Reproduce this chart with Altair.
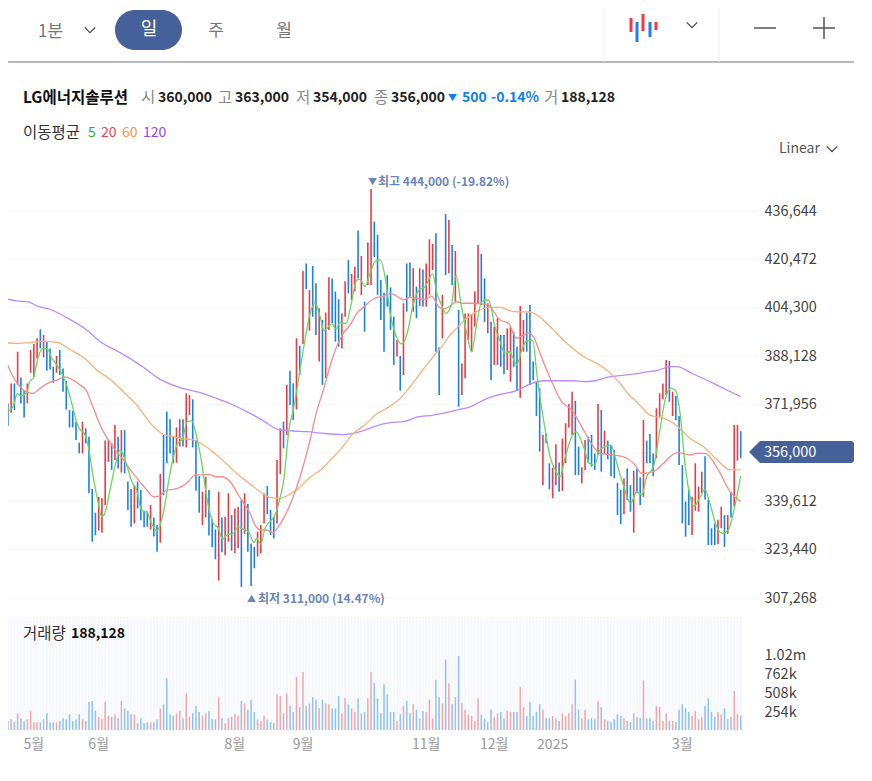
import altair as alt
import pandas as pd

FONT = "Noto Sans CJK KR"

# ---- candles: daily high / low (thousand won) and direction -----
highs_a = [378.7,372.3,379.0,379.0,389.6,381.0,376.8,379.0,390.2,392.2,394.1,397.1,395.2,393.0,390.7,384.6,388.2,390.2,384.0,379.9,
 370.1,369.9,366.2,359.2,366.2,364.0,361.2,343.7,335.8,341.1,340.6,359.9,360.1,359.0,365.1,361.2,363.4,363.4,346.2,343.7,
 345.0,346.2,343.4,336.1,336.1,338.4,334.2,331.7,348.7,361.8,369.6,367.0,361.5,364.3,367.0,367.0,375.7,375.1,373.7,360.1,
 348.0,342.8,347.8,343.4,333.6,330.2,342.8,334.2,334.4,342.3,335.0,337.2,337.8,340.0,342.3,338.7]
lows_a = [364.3,364.8,369.2,370.1,378.5,372.3,367.6,372.3,382.6,381.2,387.4,390.7,387.7,383.2,383.7,379.2,382.6,381.8,376.2,370.3,
 364.3,364.3,360.1,355.6,355.6,359.0,342.3,326.1,328.2,329.8,329.1,338.4,352.8,350.1,353.4,350.6,349.2,348.9,336.7,331.1,
 332.2,337.2,333.3,330.9,331.1,330.2,327.8,322.7,325.8,341.7,352.3,355.6,352.3,352.5,357.9,357.9,357.6,368.4,357.6,343.1,
 335.8,331.7,334.2,328.2,324.2,320.2,313.1,322.6,321.6,326.1,323.1,322.2,323.9,311.0,328.7,322.7]
dirs_a = ['u','d','u','d','u','d','d','u','u','u','u','d','u','d','d','d','u','d','d','d',
 'd','d','d','d','u','d','d','d','d','u','u','u','u','d','u','d','u','d','d','d',
 'u','d','d','d','d','u','d','d','u','d','d','d','d','u','u','d','u','u','d','d',
 'd','u','u','d','d','d','u','d','u','u','d','u','u','d','u','d']

highs_b = [325.5,324.4,329.4,331.7,342.3,344.7,336.7,334.4,353.4,364.0,366.2,378.5,383.2,379.0,394.1,391.6,416.6,419.1,410.2,418.3,
 412.5,404.1,400.2,402.7,414.5,414.1,409.7,407.1,402.4,413.2,420.2,415.6,418.0,430.1,421.6,406.3,426.1,444.0,433.1,428.6,
 413.6,409.3,415.2,411.1,401.3,393.5,388.2,405.8,419.1,419.4,417.5,411.4,417.5,417.1,419.1,427.2,425.6,429.2,391.0,408.6,
 435.6,433.6,425.3,423.3,403.6,385.7,402.4,402.4,402.2,409.7,425.3,422.3,414.1,405.8,399.6,398.0,400.8]
lows_b = [311.3,317.2,321.1,322.2,332.2,335.3,328.3,327.2,332.2,348.7,357.3,361.8,371.8,366.8,370.3,381.8,392.2,410.5,396.6,401.3,
 395.2,386.3,378.5,380.7,396.9,399.1,393.0,391.3,390.7,401.3,409.1,406.9,409.7,414.1,408.6,396.3,411.9,411.9,421.2,408.6,
 400.2,389.6,404.7,396.9,385.2,388.0,376.6,381.8,403.0,408.0,403.0,400.8,404.9,404.7,404.7,408.6,416.9,389.6,375.1,394.1,
 415.2,415.8,411.9,406.3,371.2,375.1,380.7,393.5,389.6,398.0,405.8,405.2,399.6,395.8,380.1,385.2,385.2]
dirs_b = ['d','d','u','u','u','d','d','d','u','u','d','u','d','d','u','d','u','d','u','d',
 'd','u','d','u','u','d','d','d','u','u','d','u','u','d','u','d','u','u','d','d',
 'd','d','d','d','d','u','d','u','d','d','u','d','u','d','u','u','u','d','d','u',
 'd','u','d','u','d','u','u','u','u','u','u','d','d','u','d','u','u']

highs_c = [395.2,395.2,397.4,397.8,396.3,391.3,404.9,400.2,402.7,405.2,386.3,379.6,377.4,361.8,362.3,352.3,350.8,358.7,352.6,360.6,
 365.7,372.1,376.2,373.2,357.9,351.0,360.1,361.2,361.8,355.6,372.1,370.1,363.2,359.9,358.4,356.7,345.8,343.4,347.3,350.6,
 345.0,349.8,350.6,347.6,366.8,359.9,362.1,355.6,370.7,375.7,379.0,386.8,386.5,376.2,374.8,368.1,351.7,339.5,343.6,341.1,
 352.3,344.5,349.5,354.7,340.2,330.6,332.2,333.4,337.8,335.0,335.0,342.8,365.1,365.1,363.0]
lows_c = [384.6,382.1,383.5,379.6,384.6,376.8,374.2,389.6,389.6,378.5,380.1,368.1,356.2,345.0,359.0,343.6,340.6,345.0,342.8,343.1,
 352.3,364.3,361.8,348.4,348.4,345.6,350.1,352.3,351.2,350.1,355.1,349.5,355.4,353.6,348.0,347.3,335.0,332.0,335.3,340.0,
 336.1,329.1,342.3,338.4,341.1,352.3,352.3,348.0,354.0,367.9,373.7,375.1,372.9,368.1,366.8,351.7,332.2,327.8,331.7,328.3,
 336.5,336.1,342.3,340.2,325.0,325.0,325.0,325.3,330.6,324.4,328.7,334.2,337.8,353.2,354.0]
dirs_c = ['d','d','u','u','d','d','u','u','d','d','d','d','d','u','d','d','u','u','d','u',
 'u','u','u','d','d','u','u','d','d','d','u','d','u','d','d','d','d','d','u','d',
 'd','u','d','d','u','d','d','d','u','u','u','u','d','u','d','d','d','d','d','u',
 'u','u','u','d','d','d','d','u','u','d','u','d','u','u','d']

# ---- volume (thousand shares) -----
vol_a = [0,120,143,111,223,156,120,143,258,102,102,102,143,223,102,102,102,120,156,143,209,
 120,143,209,143,120,374,388,258,174,143,374,192,174,209,156,388,290,258,209,209,
 89,156,94,102,102,102,143,290,343,691,209,192,223,254,156,490,174,223,321,241,
 192,223,254,143,143,437,156,89,156,174,209,192,388,356,272,405,241,143,120,192]
vol_b = [143,107,89,477,455,223,490,321,241,709,307,775,321,356,441,405,290,405,356,343,
 290,290,455,223,423,343,290,241,423,223,241,423,775,624,423,223,610,477,241,241,120,209,
 321,388,223,343,272,156,254,241,405,156,673,441,356,940,624,343,441,989,356,272,
 209,187,120,423,209,156,107,276,174,223]
vol_c = [241,156,254,241,241,241,575,307,187,374,187,241,343,272,156,156,187,156,120,223,
 187,223,343,673,272,156,272,143,156,143,388,307,143,120,107,143,209,187,156,120,
 107,223,174,156,660,156,156,120,321,307,120,223,120,120,107,272,343,290,241,187,
 254,143,174,321,423,241,174,241,209,290,143,174,521,209,188.128]

# ---- moving averages: bar position, value (thousand won) -----
ma5_i = [0,1,2.7,3.9,4.9,6.8,7.8,8.8,10.4,11.7,13,14.5,16,17.6,19.1,20.7,22.7,24.8,25.8,27.3,28.9,29.9,30.9,32.5,34,35.6,36.8,38.1,39.2,40.7,42.3,43.8,45.3,46.9,48.9,51,53.1,54.9,56.3,57.7,59.2,60.8,62.3,64.4,65.9,67.2,68.5,70.5,72.1,73.6,75.2,
 76.9,77.7,79,80.3,81.8,83.4,84.9,86,87.8,89,91.1,92.6,94.2,95.7,97.3,98.5,100.9,102.2,103.4,105.3,107,108.6,109.6,111.1,112.7,114.2,115.8,117.3,118.9,120.4,122.5,124,126.1,127.6,129.7,132,133.3,134.5,136.1,137.9,139.2,140.7,142.5,144,145.6,147.1,149.2,151.2,152.8,
 154.3,155.7,157.9,159.5,161,162.9,164.1,166.2,168.2,169.8,171.3,172.8,174.9,176.2,178.5,180.3,181.9,183.6,185.7,187,188.8,190.8,193.1,194.9,196.5,198,200.1,201.9,203.7,205.4,206.8,208.3,209.8,211.4,212.7,214.3,216,217.5,219.6,221.4,223.2,224.7,227]
ma5_v = [370.7,369.9,371.5,375.7,374.8,375.9,379.9,380.7,388.0,390.7,390.7,387.6,385.2,382.4,378.5,372.3,364.5,361.8,357.9,347.8,338.9,334.4,335.6,343.4,351.2,356.7,354.5,350.1,346.2,343.4,336.5,336.1,332.2,329.7,335.6,349.0,358.4,360.6,366.2,366.5,361.2,352.3,341.1,332.2,330.6,326.9,328.3,328.9,331.1,330.2,329.4,
 325.8,327.2,325.3,330.6,332.8,335.0,340.6,346.2,364.5,370.1,383.5,393.5,402.4,405.8,401.3,396.6,398.9,397.1,399.3,399.1,406.3,413.6,413.8,411.4,415.8,419.7,420.3,414.7,402.4,395.8,392.2,395.2,405.8,410.0,411.4,415.6,409.1,405.8,402.4,405.8,415.2,405.8,395.8,389.6,399.1,406.3,406.9,398.0,393.0,
 389.1,389.6,385.2,390.2,393.2,393.3,382.4,366.8,354.5,350.1,347.8,354.0,361.2,362.9,357.9,352.3,351.7,356.7,358.1,358.4,352.3,345.0,338.9,342.8,341.7,347.8,351.2,362.3,373.5,377.4,376.8,369.0,352.3,341.1,338.0,340.6,343.6,338.9,331.1,328.9,330.0,335.6,348.0]

ma20_i = [0,1.6,3.2,5.2,7.3,8.8,10.9,13.5,16,18.6,20.7,23.2,25.1,26.8,28.4,29.9,32,34.5,37.1,39.2,41.7,43.8,45.9,47.9,50,52,54.6,56.7,58.7,60.8,62.8,65.4,66.9,69.5,72.1,74.1,75.7,
 77.2,78.8,80.8,82.7,84.4,86,89,91.1,94.2,96.2,98.3,100.3,102.4,104.5,106.5,108.6,111.1,113.9,116.8,118.9,120.9,123,125,127.1,129.7,131.7,133.8,135.3,137.4,139.4,141.5,144,146.6,149.2,151.2,152.8,
 155.4,157.9,160,161.5,163.1,165.1,168.7,171.8,174.9,178,181.6,183.6,187.7,191.9,194.4,196.5,200.1,203.2,207.3,211.4,213.4,216,220.1,223.7,227]
ma20_v = [388.0,383.5,380.1,377.4,375.9,375.7,377.4,379.2,380.1,381.2,380.4,378.5,376.8,372.3,367.9,364.0,360.1,356.2,352.8,349.5,346.2,343.4,341.1,341.4,343.4,343.6,344.5,346.2,348.4,348.4,348.6,347.8,347.8,346.2,341.7,338.4,335.6,
 331.7,330.0,330.0,329.1,331.1,333.9,341.1,347.8,360.1,369.6,376.8,384.6,391.3,395.8,398.5,402.4,404.9,407.4,408.2,409.1,408.2,406.9,407.8,407.4,407.1,408.2,404.7,403.8,404.9,406.3,405.8,405.8,405.6,405.2,402.4,400.2,
 399.1,394.1,395.2,395.8,394.6,389.1,379.6,372.9,370.1,364.5,357.9,355.6,355.1,354.0,351.7,348.9,349.5,352.3,355.9,355.1,355.6,355.6,350.1,342.8,339.5]

ma60_i = [0,3.7,8.8,11.9,16.6,19.6,25.3,28.4,32.5,37.1,40.7,43.8,46.4,48.9,52,54.9,58.2,61.3,65.4,69.5,72.6,75.7,
 78.8,81.8,84.9,88,90.6,94.2,97.8,100.9,103.9,107.5,111.1,114.2,117.8,122.5,125,128.6,132.2,134.8,137.4,139.9,142.5,145.6,149.2,152.8,
 156.9,161.5,164.1,168.2,173.9,178.5,182.6,185.7,189.8,192.9,194.9,199,203.2,206.3,211.4,215.5,219.6,223.7,227]
ma60_v = [392.6,392.4,392.8,393.1,392.6,390.7,386.8,383.5,380.4,375.7,371.8,367.3,364.0,362.0,361.2,360.5,360.1,358.4,355.1,351.0,348.0,345.4,
 342.8,340.9,340.6,342.0,343.9,347.6,350.4,353.9,357.3,362.3,365.1,368.4,370.7,374.6,377.9,383.0,388.0,391.3,395.2,398.0,400.8,403.0,404.4,404.4,
 403.0,402.9,401.9,398.0,391.9,388.0,385.7,383.5,379.0,374.8,372.9,368.4,367.3,365.7,360.6,357.9,353.6,350.1,350.1]

ma120_i = [0,3.7,7.6,9.9,14,18.6,25.3,29.4,35.6,42.8,47.4,54.1,60.3,65.4,70.5,75.7,
 79.8,84.4,89,93.2,98.3,104.5,110.6,113.7,118.9,123,127.1,132.2,139.4,143.5,149.2,152.8,
 157.9,162,166.2,175.4,178.5,182.1,185.7,193.9,198,201.1,205.2,207.3,211.9,218.6,222.7,227]
ma120_v = [407.4,406.6,406.2,404.9,403.8,401.3,396.9,393.0,389.3,384.4,380.7,377.6,375.9,374.0,371.8,369.0,
 366.5,363.6,363.1,362.9,362.3,361.9,363.2,364.5,365.9,366.2,367.7,368.4,370.1,371.2,374.2,375.3,
 376.6,378.8,379.9,379.9,379.6,379.9,381.0,382.1,382.9,383.3,384.6,384.6,382.4,379.0,376.8,374.6]

# ---- axes -----
price_ticks = [307268, 323440, 339612, 371956, 388128, 404300, 420472, 436644]
grid_ticks = [307268, 323440, 339612, 355784, 371956, 388128, 404300, 420472, 436644]
vol_ticks = [254000, 508000, 762000, 1020000]
month_pos = [9, 29, 71, 92, 130, 151, 169, 209]
month_names = ["5월", "6월", "8월", "9월", "11월", "12월", "2025", "3월"]

highs = highs_a + highs_b + highs_c
lows = lows_a + lows_b + lows_c
dirs = dirs_a + dirs_b + dirs_c
vols = vol_a + vol_b + vol_c
n = min(len(highs), len(lows), len(dirs), len(vols))

bars = pd.DataFrame({
    "i": list(range(n)),
    "high": [v * 1000 for v in highs[:n]],
    "low": [v * 1000 for v in lows[:n]],
    "dir": dirs[:n],
    "vol": [v * 1000 for v in vols[:n]],
})

P_W, P_H = 734, 562
x_scale = alt.Scale(domain=[1.03, 227.4], nice=False, zero=False, padding=0)
y_scale = alt.Scale(domain=[263145, 451019], nice=False, zero=False)
v_scale = alt.Scale(domain=[0, 7512816], nice=False, zero=False)
X = alt.X("i:Q", scale=x_scale, axis=None)
one = alt.Data(values=[{"k": 1}])


def px(v):
    return alt.value(v - 8)


def py(v):
    return alt.value(v - 168)


def label(text, x, y, size=14, color="#333333", weight="normal", align="left"):
    return alt.Chart(one).mark_text(
        text=text, align=align, baseline="middle", fontSize=size, color=color,
        fontWeight=weight, font=FONT,
    ).encode(x=px(x), y=py(y + 1.5))


def hline(x1, x2, y, color, width=1):
    return alt.Chart(one).mark_rule(color=color, strokeWidth=width).encode(
        x=px(x1), x2=px(x2), y=py(y))


def vline(x, y1, y2, color, width=1):
    return alt.Chart(one).mark_rule(color=color, strokeWidth=width).encode(
        x=px(x), y=py(y1), y2=py(y2))


def chevron(x, y):
    return alt.Chart(one).mark_point(
        shape="M-1,-0.5L0,0.5L1,-0.5", filled=False, size=110, color="#444444",
        strokeWidth=1.2, opacity=1,
    ).encode(x=px(x), y=py(y))


def ma_line(idx, vals, color):
    df = pd.DataFrame({"i": idx, "v": [v * 1000 for v in vals]})
    return alt.Chart(df).mark_line(color=color, strokeWidth=1.3, interpolate="monotone").encode(
        x=X, y=alt.Y("v:Q", scale=y_scale, axis=None))


# ---- price pane -----
grid = alt.Chart(pd.DataFrame({"p": grid_ticks})).mark_rule(color="#f5f5fa", strokeWidth=1).encode(
    x=px(8), x2=px(758),
    y=alt.Y("p:Q", scale=y_scale, axis=None))

price_axis = alt.Chart(pd.DataFrame({"p": price_ticks})).mark_point(opacity=0).encode(
    y=alt.Y("p:Q", scale=y_scale, axis=alt.Axis(
        orient="right", values=price_ticks, title=None, format=",d", domain=False, ticks=False,
        grid=False, labelPadding=22, labelFontSize=14.5, labelColor="#444444", labelFont=FONT)))

candles = alt.Chart(bars).mark_rule(strokeWidth=1.6).encode(
    x=X,
    y=alt.Y("high:Q", scale=y_scale, axis=None),
    y2="low:Q",
    color=alt.Color("dir:N", scale=alt.Scale(domain=["u", "d"], range=["#ef3a44", "#1a80ea"]), legend=None),
)

price_pane = alt.layer(
    grid, candles,
    ma_line(ma120_i, ma120_v, "#bb8bff"),
    ma_line(ma60_i, ma60_v, "#f9b078"),
    ma_line(ma20_i, ma20_v, "#fa8a8c"),
    ma_line(ma5_i, ma5_v, "#6cd65f"),
)

# ---- volume pane -----
stripes = alt.Chart(bars).mark_rule(color="#f5f7fc", strokeWidth=2.2).encode(
    x=X, y=py(617), y2=py(730))

vol_bars = alt.Chart(bars).mark_bar(size=1.5, orient="vertical").encode(
    x=X,
    y=alt.Y("vol:Q", scale=v_scale, axis=alt.Axis(
        orient="right", values=vol_ticks, title=None, domain=False, ticks=False, grid=False,
        labelPadding=22, labelFontSize=14.5, labelColor="#444444", labelFont=FONT, labelOffset=1.5,
        labelExpr="datum.value >= 1000000 ? format(datum.value / 1000000, '.2f') + 'm' : format(datum.value / 1000, 'd') + 'k'")),
    color=alt.Color("dir:N", scale=alt.Scale(domain=["u", "d"], range=["#f7a4a7", "#8cc2f7"]), legend=None),
)

vol_pane = alt.layer(stripes, vol_bars)

month_labels = alt.Chart(pd.DataFrame({"i": month_pos, "m": month_names})).mark_text(
    fontSize=14, color="#999999", font=FONT, align="center", baseline="middle"
).encode(x=X, y=py(745), text="m:N")

# ---- surrounding interface -----
icon = []
for x, top, bottom, c in [(631, 18, 32, "#ef3a44"), (637, 22, 42, "#1a80ea"), (643, 14, 31, "#ef3a44"),
                          (650, 22, 37, "#1a80ea"), (656, 22, 30, "#ef3a44")]:
    icon.append(vline(x, top, bottom, c, 3))

pill = alt.Chart(one).mark_rect(color="#46609a", cornerRadius=20).encode(
    x=px(115), x2=px(182), y=py(10), y2=py(50))
price_tag = alt.Chart(one).mark_rect(color="#46609a", cornerRadiusTopRight=3, cornerRadiusBottomRight=3).encode(
    x=px(760), x2=px(854), y=py(441), y2=py(463))
price_arrow = alt.Chart(one).mark_point(
    shape="M-1,0L0,-1L0,1Z", filled=True, size=484, color="#46609a", opacity=1
).encode(x=px(760), y=py(452))

B = "bold"
HG = 15.5
chrome = alt.layer(
    hline(8, 854, 62, "#6a737d"),
    vline(604, 8, 62, "#eeeeee"), vline(719, 8, 62, "#eeeeee"),
    pill,
    label("1분", 38, 30, 17, "#777777"), chevron(90, 30),
    label("일", 149, 28, 18, "#ffffff", align="center"),
    label("주", 216, 29, 17, "#777777", align="center"),
    label("월", 284, 29, 17, "#777777", align="center"),
    *icon, chevron(692, 25),
    hline(754, 776, 28, "#555555", 1.5), hline(813, 835, 28, "#555555", 1.5), vline(824, 17, 39, "#555555", 1.5),
    label("LG에너지솔루션", 23, 96, HG, "#111111", B),
    label("시", 141, 96, HG, "#888888"), label("360,000", 158, 96, 14, "#222222", B),
    label("고", 218, 96, HG, "#888888"), label("363,000", 235, 96, 14, "#222222", B),
    label("저", 296, 96, HG, "#888888"), label("354,000", 313, 96, 14, "#222222", B),
    label("종", 374, 96, HG, "#888888"), label("356,000", 391, 96, 14, "#222222", B),
    label("▼", 448, 96, 9, "#0f7ff0"), label("500", 462, 96, 14, "#0f7ff0", B),
    label("-0.14%", 491, 96, 14, "#0f7ff0", B),
    label("거", 544, 96, HG, "#888888"), label("188,128", 561, 96, 14, "#222222", B),
    label("이동평균", 23, 131, HG, "#333333"),
    label("5", 88, 131, 14, "#25b825"), label("20", 101, 131, 14, "#f0484f"),
    label("60", 122, 131, 14, "#f5964a"), label("120", 143, 131, 14, "#9447ee"),
    label("Linear", 779, 147, 14, "#555555"), chevron(832, 149),
    label("▼", 368, 180, 9, "#6b85b8"), label("최고 444,000 (-19.82%)", 378, 180, 12, "#6b85b8", B),
    label("▲", 247, 597, 9, "#6b85b8"), label("최저 311,000 (14.47%)", 258, 597, 12, "#6b85b8", B),
    label("거래량", 23, 632, HG, "#333333"), label("188,128", 71, 632, 14, "#111111", B),
    price_tag, price_arrow,
    label("356,000", 764, 451, 14.5, "#ffffff"),
    month_labels,
)

chart = alt.layer(vol_pane, price_pane, price_axis, chrome).resolve_scale(y="independent", color="independent").properties(
    width=P_W, height=P_H,
    padding={"left": 0, "top": 160, "right": 122, "bottom": 43},
    autosize=alt.AutoSizeParams(type="none"),
    background="#ffffff",
).configure_view(strokeWidth=0)

chart.save("out.html", embed_options={"renderer": "svg", "actions": False})
